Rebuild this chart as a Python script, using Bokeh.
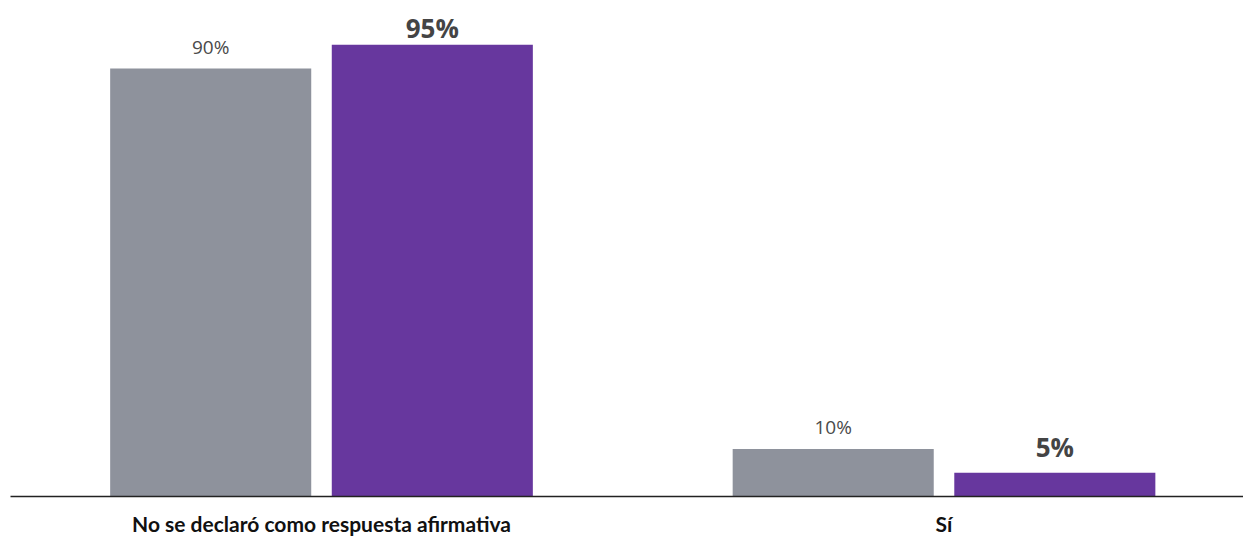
from bokeh.plotting import figure
from bokeh.models import ColumnDataSource, Range1d, FixedTicker, LinearAxis
from bokeh.core.properties import value
from bokeh.embed import file_html
from bokeh.resources import INLINE

categories = ["No se declaró como respuesta afirmativa", "Sí"]
series_a = [90, 10]   # gray
series_b = [95, 5]    # purple
labels_a = ["90%", "10%"]
labels_b = ["95%", "5%"]

GRAY = "#8E929C"
PURPLE = "#67379E"
TEXT = "#444444"

idx = list(range(len(categories)))
off = 0.178
bw = 0.323

src_a = ColumnDataSource(dict(x=[i - off for i in idx], top=series_a, lab=labels_a))
src_b = ColumnDataSource(dict(x=[i + off for i in idx], top=series_b, lab=labels_b,
                              yoff=[-17, -26]))

p = figure(width=1243, height=538, output_backend="svg", toolbar_location=None,
           x_range=Range1d(-0.4996, 1.4811), y_range=Range1d(0, 104.3),
           x_axis_type=None, y_axis_type=None,
           min_border_left=10, min_border_right=0, min_border_top=0, min_border_bottom=41)
p.outline_line_color = None
p.xgrid.visible = False
p.ygrid.visible = False
p.background_fill_color = "white"
p.border_fill_color = "white"

p.vbar(x="x", top="top", width=bw, bottom=0, source=src_a, fill_color=GRAY, line_color=None)
p.vbar(x="x", top="top", width=bw, bottom=0, source=src_b, fill_color=PURPLE, line_color=None)

p.text(x="x", y="top", text="lab", source=src_a, text_align="center",
       text_baseline="alphabetic", y_offset=-22, text_font=value("Open Sans"),
       text_font_size="19px", text_color="#4a4a4a")
p.text(x="x", y="top", text="lab", source=src_b, text_align="center",
       text_baseline="alphabetic", y_offset="yoff", text_font=value("Open Sans"),
       text_font_size="26px", text_font_style="bold", text_color=TEXT)

ax = LinearAxis(ticker=FixedTicker(ticks=idx),
                major_label_overrides={i: c for i, c in zip(idx, categories)})
ax.axis_line_color = "#222222"
ax.axis_line_width = 1.5
ax.major_tick_line_color = None
ax.minor_tick_line_color = None
ax.major_tick_out = 0
ax.major_tick_in = 0
ax.major_label_standoff = 14
ax.major_label_text_font = "Lato"
ax.major_label_text_font_style = "bold"
ax.major_label_text_font_size = "21px"
ax.major_label_text_color = "#111111"
p.add_layout(ax, "below")

open("out.html", "w").write(file_html(p, INLINE))
